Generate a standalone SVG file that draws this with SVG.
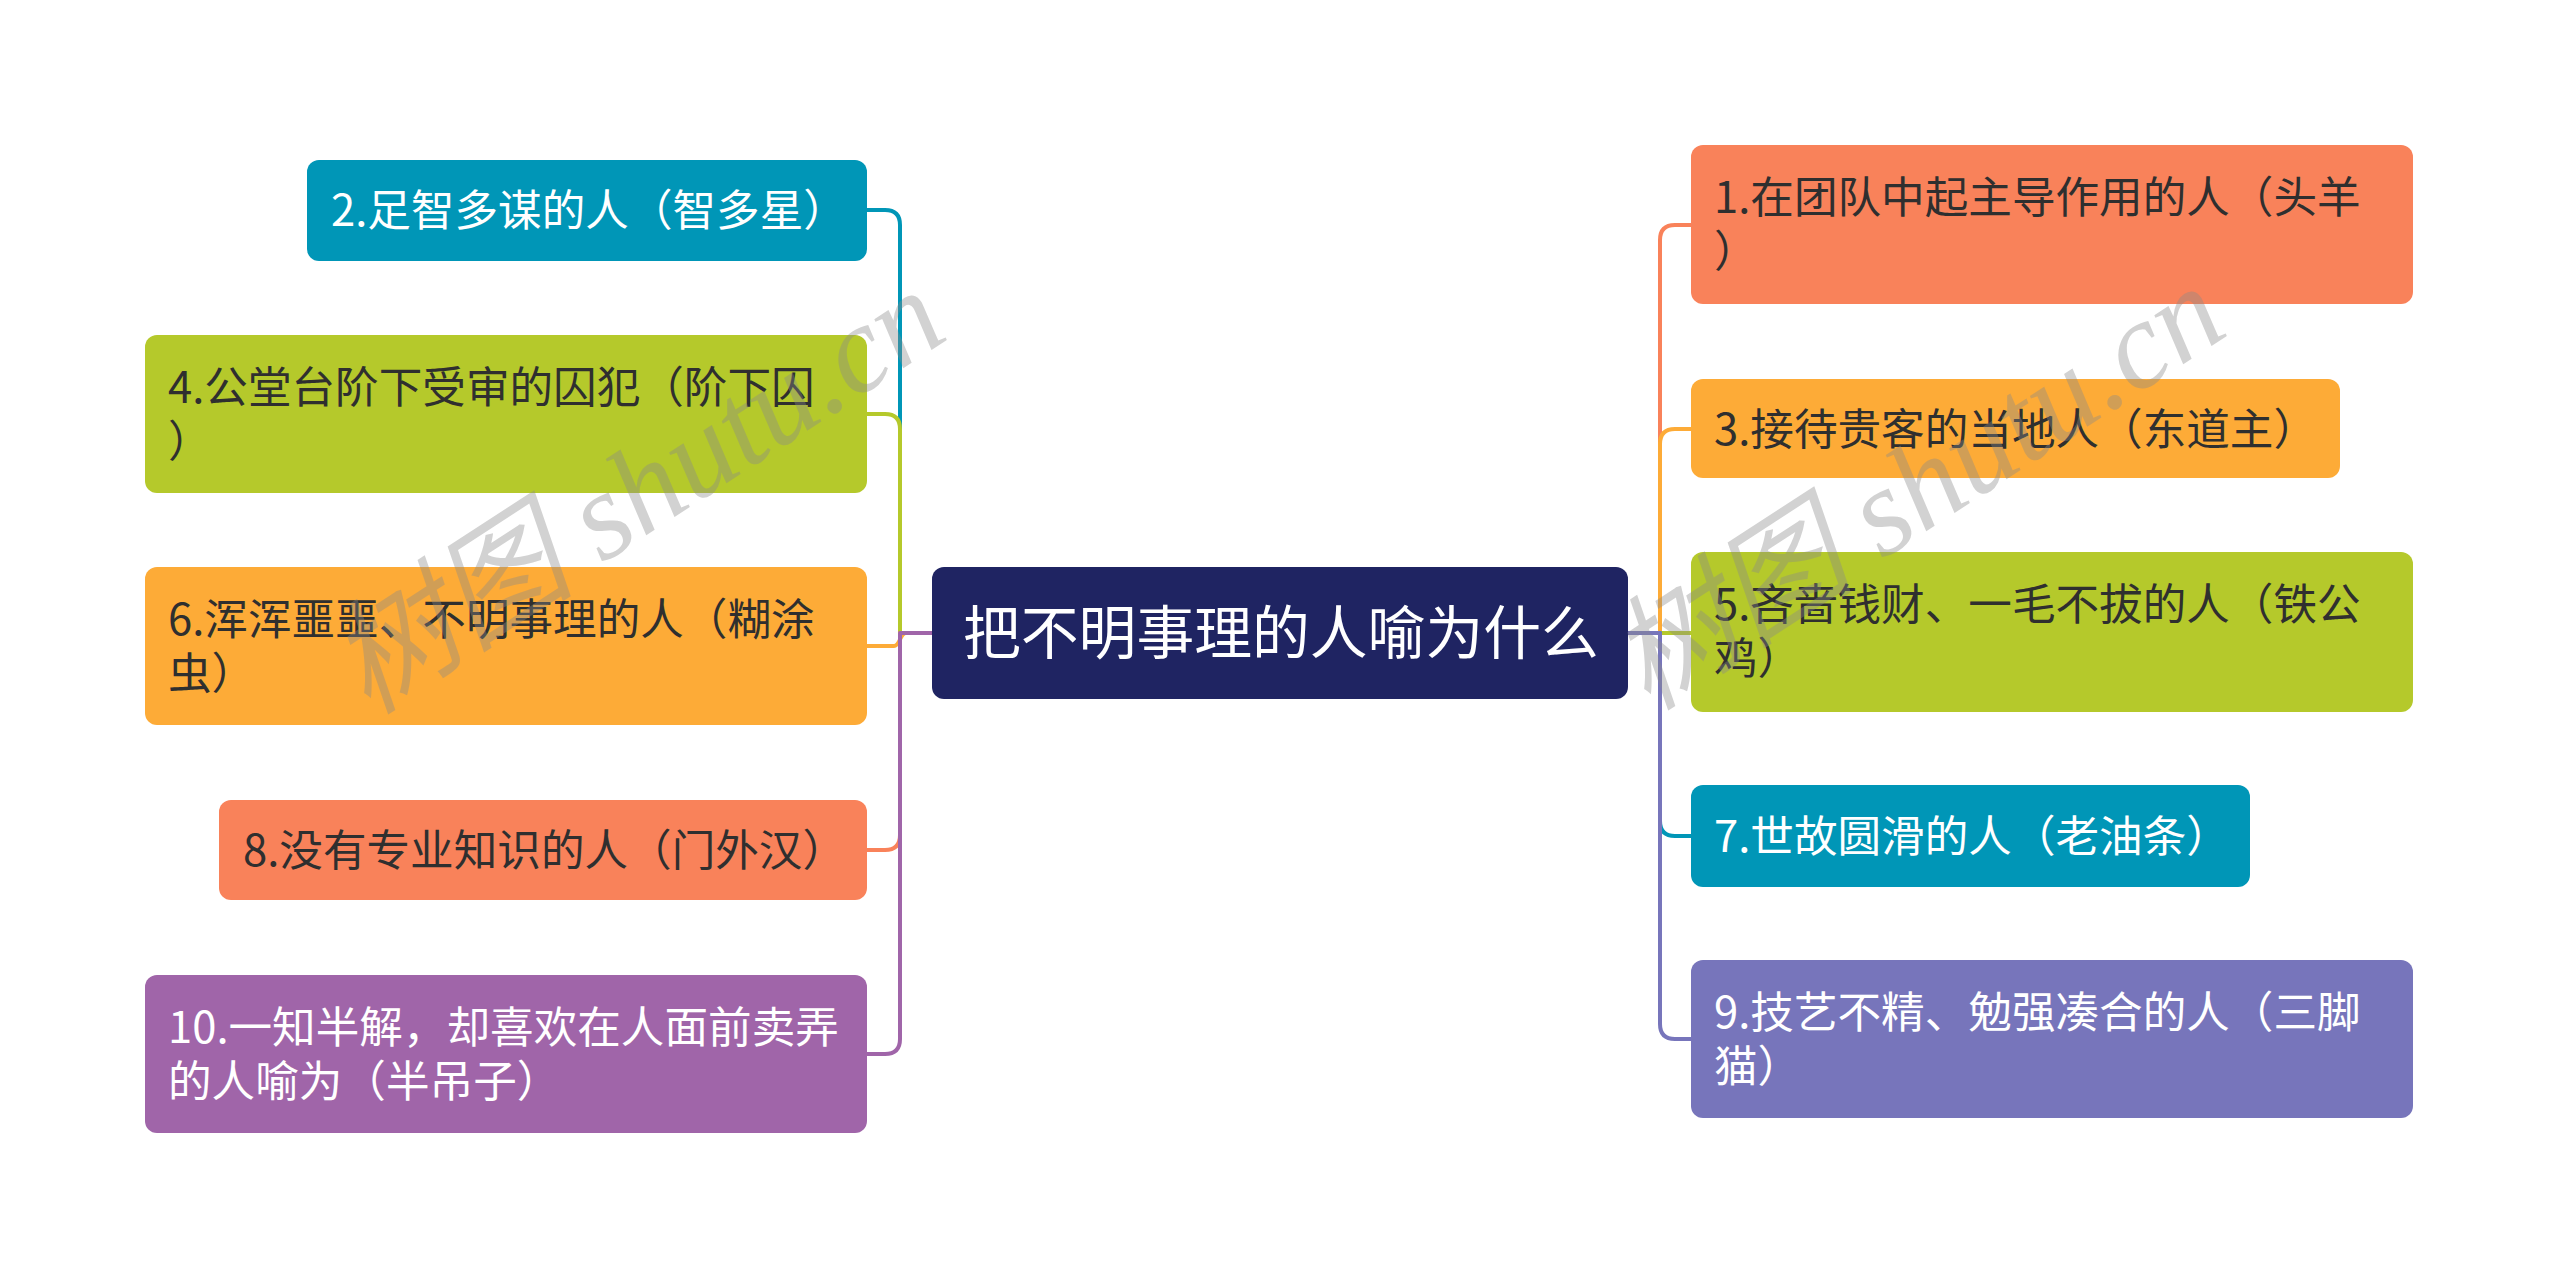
<svg xmlns="http://www.w3.org/2000/svg" width="2560" height="1280" viewBox="0 0 2560 1280">
<style>
.t{font-family:"Noto Sans CJK SC","Noto Sans",sans-serif;font-size:43.6px}
.w{fill:#ffffff}
.d{fill:#2f2f2f}
.c{fill:none;stroke-width:4;stroke-linecap:round;stroke-linejoin:round}
.wm{font-family:"Liberation Serif","Noto Sans CJK SC",serif;font-style:italic;font-size:124px;fill:#8a8a8a;opacity:0.38}
</style>
<rect width="2560" height="1280" fill="#ffffff"/>
<g id="connectors">
<path class="c" stroke="#0096B7" d="M932 633 H900 V225 Q900 210 885 210 H867"/>
<path class="c" stroke="#B5C92B" d="M932 633 H900 V429 Q900 414 885 414 H867"/>
<path class="c" stroke="#FDAB37" d="M932 633 H906 C900 633 900 646 894 646 H867"/>
<path class="c" stroke="#F9825A" d="M932 633 H900 V835 Q900 850 885 850 H867"/>
<path class="c" stroke="#A065A9" d="M932 633 H900 V1039 Q900 1054 885 1054 H867"/>
<path class="c" stroke="#F9825A" d="M1628 633 H1660 V240 Q1660 225 1675 225 H1691"/>
<path class="c" stroke="#FDAB37" d="M1628 633 H1660 V444 Q1660 429 1675 429 H1691"/>
<path class="c" stroke="#B5C92B" d="M1628 633 H1691"/>
<path class="c" stroke="#0096B7" d="M1628 633 H1660 V821 Q1660 836 1675 836 H1691"/>
<path class="c" stroke="#7775BB" d="M1628 633 H1660 V1024 Q1660 1039 1675 1039 H1691"/>
</g>
<g id="center">
<rect x="932" y="567" width="696" height="132" rx="12" fill="#1F2462"/>
<text class="t w" x="963" y="654" style="font-size:57.8px">把不明事理的人喻为什么</text>
</g>
<g id="n2">
<rect x="307" y="160" width="560" height="101" rx="12" fill="#0096B7"/>
<text class="t w" x="331" y="226">2.足智多谋的人（智多星）</text>
</g>
<g id="n4">
<rect x="145" y="335" width="722" height="158" rx="12" fill="#B5C92B"/>
<text class="t d" x="168" y="403">4.公堂台阶下受审的囚犯（阶下囚</text>
<text class="t d" x="168" y="457">）</text>
</g>
<g id="n6">
<rect x="145" y="567" width="722" height="158" rx="12" fill="#FDAB37"/>
<text class="t d" x="168" y="635">6.浑浑噩噩、不明事理的人（糊涂</text>
<text class="t d" x="168" y="689">虫）</text>
</g>
<g id="n8">
<rect x="219" y="800" width="648" height="100" rx="12" fill="#F9825A"/>
<text class="t d" x="243" y="866">8.没有专业知识的人（门外汉）</text>
</g>
<g id="n10">
<rect x="145" y="975" width="722" height="158" rx="12" fill="#A065A9"/>
<text class="t w" x="168" y="1043">10.一知半解，却喜欢在人面前卖弄</text>
<text class="t w" x="168" y="1097">的人喻为（半吊子）</text>
</g>
<g id="n1">
<rect x="1691" y="145" width="722" height="159" rx="12" fill="#F9825A"/>
<text class="t d" x="1714" y="213">1.在团队中起主导作用的人（头羊</text>
<text class="t d" x="1714" y="267">）</text>
</g>
<g id="n3">
<rect x="1691" y="379" width="649" height="99" rx="12" fill="#FDAB37"/>
<text class="t d" x="1714" y="445">3.接待贵客的当地人（东道主）</text>
</g>
<g id="n5">
<rect x="1691" y="552" width="722" height="160" rx="12" fill="#B5C92B"/>
<text class="t d" x="1714" y="620">5.吝啬钱财、一毛不拔的人（铁公</text>
<text class="t d" x="1714" y="674">鸡）</text>
</g>
<g id="n7">
<rect x="1691" y="785" width="559" height="102" rx="12" fill="#0096B7"/>
<text class="t w" x="1714" y="852">7.世故圆滑的人（老油条）</text>
</g>
<g id="n9">
<rect x="1691" y="960" width="722" height="158" rx="12" fill="#7775BB"/>
<text class="t w" x="1714" y="1028">9.技艺不精、勉强凑合的人（三脚</text>
<text class="t w" x="1714" y="1082">猫）</text>
</g>
<g id="watermarks">
<text class="wm" transform="translate(368 716) rotate(-33)">树图 shutu.cn</text>
<text class="wm" transform="translate(1648 712) rotate(-33)">树图 shutu.cn</text>
</g>
</svg>
